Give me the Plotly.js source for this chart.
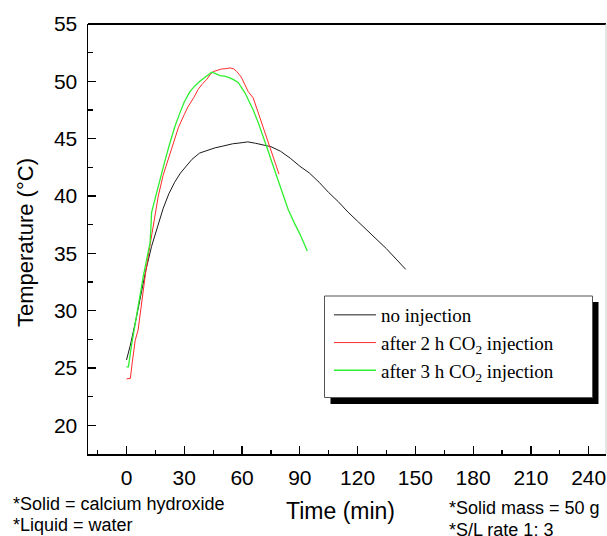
<!DOCTYPE html>
<html>
<head>
<meta charset="utf-8">
<script src="https://cdn.plot.ly/plotly-3.0.1.min.js"></script>
<style>html,body{margin:0;padding:0;background:#fff;}#chart{width:607px;height:536px;}</style>
</head>
<body>
<div id="chart"></div>
<script>
// Time (min) and temperature (°C)
var timeNoInj = [0, 2, 5, 8, 10, 13, 16, 19, 22, 25, 28, 31, 34, 38, 42, 46, 50, 55, 60, 63, 67, 71, 75, 80, 85, 90, 95, 100, 105, 110, 115, 120, 125, 130, 135, 140, 145];
var tempNoInj = [25.7, 27.0, 29.3, 31.8, 33.5, 35.6, 37.3, 38.9, 40.2, 41.2, 42.0, 42.6, 43.2, 43.75, 44.0, 44.2, 44.35, 44.55, 44.65, 44.72, 44.6, 44.45, 44.3, 43.9, 43.3, 42.6, 42.0, 41.2, 40.3, 39.5, 38.6, 37.8, 37.0, 36.2, 35.4, 34.5, 33.6];

var time2h = [0, 2, 3, 4.5, 6, 8, 10, 12, 14, 16.5, 19, 21.7, 24, 27, 30, 32, 35, 37.2, 39.5, 41.6, 43.5, 45, 47, 49.4, 51.5, 53.7, 55.5, 57.2, 58.5, 59.8, 61.5, 63.2, 65.8, 68.4, 70.5, 72.8, 75, 77, 79.2];
var temp2h = [24.05, 24.1, 25.5, 27.4, 28.3, 31.0, 33.4, 35.5, 37.6, 40.0, 41.8, 43.2, 44.6, 46.0, 47.1, 47.8, 48.6, 49.3, 49.8, 50.15, 50.6, 50.85, 50.95, 51.08, 51.1, 51.17, 51.1, 50.87, 50.6, 50.3, 49.7, 49.1, 48.55, 47.25, 46.2, 44.9, 43.8, 42.9, 41.9];

var time3h = [0, 1, 2.6, 5, 8.7, 10.5, 12.2, 12.6, 13, 14.75, 17.35, 20, 22.5, 25, 27.7, 30, 32.9, 35.5, 38.1, 41, 44.2, 46, 48.5, 51, 53.7, 56, 58, 61.5, 63.5, 65.8, 68.4, 71, 73.6, 76.2, 78.5, 80.6, 84, 87, 90, 93.9];
var temp3h = [25.1, 25.1, 27.0, 29.5, 33.0, 34.5, 35.9, 37.0, 38.55, 39.7, 41.45, 43.1, 44.6, 46.0, 47.25, 48.2, 49.1, 49.6, 50.0, 50.4, 50.8, 50.7, 50.5, 50.45, 50.3, 50.1, 49.9, 49.0, 48.3, 47.5, 46.4, 45.2, 43.9, 42.6, 41.5, 40.3, 38.8, 37.7, 36.7, 35.2];

var seriesNames = ["no injection", "after 2 h CO<sub>2</sub> injection", "after 3 h CO<sub>2</sub> injection"];
var seriesColors = ["#1a1a1a", "#ff2a2a", "#2ef02e"];

var xTitle = "Time (min)";
var yTitle = "Temperature (°C)";
var noteLeft = ["*Solid = calcium hydroxide", "*Liquid = water"];
var noteRight = ["*Solid mass = 50 g", "*S/L rate 1: 3"];

// plot-area geometry (pixels) for placing the decorations
var W = 607, H = 536, ML = 88, MR = 1, MT = 24, MB = 82;
var PW = W - ML - MR, PH = H - MT - MB;
function px(x) { return (x - ML) / PW; }
function py(y) { return (H - MB - y) / PH; }

var sans = "Liberation Sans, Arial, sans-serif";
var serif = "Liberation Serif, Times New Roman, serif";

var traces = [
  {x: timeNoInj, y: tempNoInj, name: seriesNames[0], mode: "lines", line: {color: seriesColors[0], width: 1}},
  {x: time2h, y: temp2h, name: seriesNames[1], mode: "lines", line: {color: seriesColors[1], width: 1}},
  {x: time3h, y: temp3h, name: seriesNames[2], mode: "lines", line: {color: seriesColors[2], width: 1.3}}
];

var layout = {
  width: W, height: H,
  margin: {l: ML, r: MR, t: MT, b: MB, pad: 0},
  paper_bgcolor: "#fff", plot_bgcolor: "#fff",
  showlegend: true,
  legend: {
    x: px(329), y: py(296), xanchor: "left", yanchor: "top",
    bgcolor: "rgba(0,0,0,0)", borderwidth: 0,
    font: {family: serif, size: 19, color: "#000"},
    itemwidth: 42
  },
  xaxis: {
    range: [-20, 249], tick0: 0, dtick: 30,
    showgrid: false, zeroline: false,
    showline: true, linecolor: "#000", linewidth: 1.5,
    ticks: "inside", ticklen: 8, tickwidth: 1.2, tickcolor: "#000",
    minor: {dtick: 15, ticks: "inside", ticklen: 4, tickwidth: 1.2, tickcolor: "#000", showgrid: false},
    tickfont: {family: sans, size: 21, color: "#000"},
    ticklabelstandoff: 4
  },
  yaxis: {
    range: [17.5, 55], tick0: 20, dtick: 5,
    showgrid: false, zeroline: false,
    showline: true, linecolor: "#000", linewidth: 1.5,
    ticks: "inside", ticklen: 8, tickwidth: 1.2, tickcolor: "#000",
    minor: {dtick: 2.5, ticks: "inside", ticklen: 5, tickwidth: 1.2, tickcolor: "#000", showgrid: false},
    tickfont: {family: sans, size: 21, color: "#000"},
    ticklabelstandoff: 5
  },
  shapes: [
    {type: "line", xref: "paper", yref: "paper", x0: 0, x1: 1, y0: 1, y1: 1, line: {color: "#000", width: 2}},
    {type: "line", xref: "paper", yref: "paper", x0: 1, x1: 1, y0: 0, y1: 1, line: {color: "#cccccc", width: 1}},
    {type: "rect", xref: "paper", yref: "paper", x0: px(330.5), x1: px(598.5), y0: py(404), y1: py(302), fillcolor: "#000", line: {width: 0}, layer: "above"},
    {type: "rect", xref: "paper", yref: "paper", x0: px(324.5), x1: px(592.5), y0: py(397.5), y1: py(296), fillcolor: "#fff", line: {color: "#555", width: 1}, layer: "above"}
  ],
  annotations: [
    {text: xTitle, xref: "paper", yref: "paper", x: px(340), y: py(511), xanchor: "center", yanchor: "middle", showarrow: false, font: {family: sans, size: 23, color: "#000"}},
    {text: yTitle, xref: "paper", yref: "paper", x: px(25), y: py(243), xanchor: "center", yanchor: "middle", textangle: -90, showarrow: false, font: {family: sans, size: 22, color: "#000"}},
    {text: noteLeft[0], xref: "paper", yref: "paper", x: px(11), y: py(504), xanchor: "left", yanchor: "middle", showarrow: false, font: {family: sans, size: 18, color: "#000"}},
    {text: noteLeft[1], xref: "paper", yref: "paper", x: px(11), y: py(525), xanchor: "left", yanchor: "middle", showarrow: false, font: {family: sans, size: 18, color: "#000"}},
    {text: noteRight[0], xref: "paper", yref: "paper", x: px(447), y: py(508), xanchor: "left", yanchor: "middle", showarrow: false, font: {family: sans, size: 18, color: "#000"}},
    {text: noteRight[1], xref: "paper", yref: "paper", x: px(447), y: py(530), xanchor: "left", yanchor: "middle", showarrow: false, font: {family: sans, size: 18, color: "#000"}}
  ]
};

Plotly.newPlot("chart", traces, layout, {staticPlot: true, displayModeBar: false});
</script>
</body>
</html>
